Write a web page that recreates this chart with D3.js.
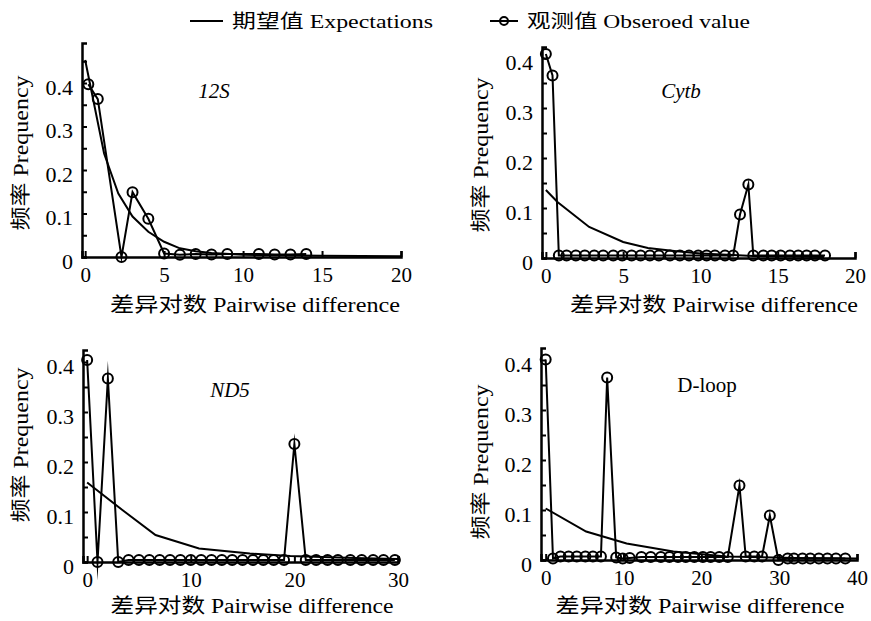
<!DOCTYPE html>
<html lang="en">
<head>
<meta charset="UTF-8">
<title>Mismatch distribution</title>
<style>
  body { margin: 0; background: #fff; }
  .axis path, .axis line { stroke: #000; }
  .axis line { stroke-width: 2; }
</style>
</head>
<body>
<div id="chart"></div>
<script src="https://d3js.org/d3.v7.min.js"></script>
<script>

// 12S
var s12ObsX = [0.2, 0.8, 2.3, 3, 4, 5, 6, 7, 8, 9, 11, 12, 13, 14];
var s12ObsY = [0.397, 0.363, 0, 0.149, 0.088, 0.008, 0.005, 0.007, 0.006, 0.007, 0.007, 0.006, 0.006, 0.007];
var s12ExpX = [0, 1.2, 2.1, 3, 4, 5, 6, 7, 8, 10, 15, 20];
var s12ExpY = [0.453, 0.238, 0.146, 0.093, 0.058, 0.035, 0.02, 0.013, 0.009, 0.005, 0.003, 0.002];

// Cytb
var cytbObsX = [0, 0.43, 0.84, 1.34, 1.94, 2.52, 3.13, 3.71, 4.36, 4.94, 5.55, 6.13, 6.73, 7.31, 8.03, 8.67,
                9.26, 9.86, 10.4, 10.94, 11.59, 12.12, 12.56, 13.1, 13.42, 14.07, 14.61, 15.19, 15.79, 16.33,
                16.87, 17.41, 18.06];
var cytbObsY = [0.408, 0.365, 0.005, 0.005, 0.005, 0.005, 0.005, 0.005, 0.005, 0.005, 0.005, 0.005, 0.005,
                0.005, 0.005, 0.005, 0.005, 0.005, 0.005, 0.005, 0.005, 0.005, 0.087, 0.147, 0.005, 0.005,
                0.005, 0.005, 0.005, 0.005, 0.005, 0.005, 0.005];
var cytbExpX = [0, 0.75, 2.8, 5, 6.6, 8.3, 10, 12.1, 13.4, 15, 18];
var cytbExpY = [0.136, 0.112, 0.062, 0.032, 0.02, 0.014, 0.009, 0.006, 0.004, 0.003, 0.002];

// ND5
var nd5ObsX = [0, 1, 2, 3, 4, 5, 6, 7, 8, 9, 10, 11, 12, 13, 14, 15, 16, 17, 18, 19, 20,
               21.1, 22.1, 23.2, 24.2, 25.4, 26.5, 27.6, 28.6, 29.7];
var nd5ObsY = [0.404, 0, 0.367, 0, 0.004, 0.004, 0.004, 0.004, 0.004, 0.004, 0.004, 0.004, 0.004, 0.004,
               0.004, 0.004, 0.004, 0.004, 0.004, 0.004, 0.236, 0.004, 0.004, 0.004, 0.004, 0.004, 0.004,
               0.004, 0.004, 0.004];
var nd5ExpX = [0, 3.4, 6.6, 10.8, 15.7, 19.6, 25.8, 30];
var nd5ExpY = [0.159, 0.104, 0.054, 0.027, 0.017, 0.012, 0.008, 0.006];

// D-loop
var dloopObsX = [0, 0.94, 1.9, 2.95, 4, 5.1, 6.07, 7.1, 7.9, 9.06, 9.9, 10.8, 12.3, 13.5, 14.8, 15.9, 17, 18,
                 19.1, 20.2, 21.2, 22.3, 23.4, 24.9, 25.7, 26.8, 27.8, 28.8, 29.9, 31.1, 31.9, 33, 34, 35.1,
                 36.2, 37.3, 38.5];
var dloopObsY = [0.401, 0.003, 0.007, 0.007, 0.007, 0.007, 0.007, 0.007, 0.365, 0.005, 0.003, 0.004,
                 0.006, 0.006, 0.006, 0.006, 0.006, 0.006, 0.006, 0.006, 0.006, 0.006, 0.006, 0.149,
                 0.007, 0.007, 0.007, 0.089, 0, 0.003, 0.003, 0.003, 0.003, 0.003, 0.003, 0.003, 0.003];
var dloopExpX = [0, 5.2, 10.4, 16.4, 23.2, 32, 40];
var dloopExpY = [0.103, 0.057, 0.033, 0.017, 0.007, 0.004, 0.003];

// ticks
var xTicks20 = [0, 5, 10, 15, 20];
var xTicks30 = [0, 10, 20, 30];
var xTicks40 = [0, 10, 20, 30, 40];
var yTicks = [0, 0.05, 0.1, 0.15, 0.2, 0.25, 0.3, 0.35, 0.4, 0.45];
var yLabels = [0, 0.1, 0.2, 0.3, 0.4];

var legendExp = "期望值 Expectations";
var legendObs = "观测值 Obseroed value";
var yTitle = "频率 Prequency";
var xTitle = "差异对数 Pairwise difference";

var serif = "Liberation Serif, Noto Sans CJK SC";

var svg = d3.select("#chart").append("svg")
    .attr("width", 871)
    .attr("height", 621)
    .attr("font-family", serif);

// legend
svg.append("line").attr("x1", 190).attr("x2", 223).attr("y1", 21).attr("y2", 21)
    .attr("stroke", "#000").attr("stroke-width", 2);
svg.append("text").attr("x", 232).attr("y", 28).attr("font-size", 19)
    .attr("textLength", 201).attr("lengthAdjust", "spacingAndGlyphs").text(legendExp);
svg.append("line").attr("x1", 490).attr("x2", 518).attr("y1", 21).attr("y2", 21)
    .attr("stroke", "#000").attr("stroke-width", 2);
svg.append("circle").attr("cx", 504).attr("cy", 21).attr("r", 4)
    .attr("fill", "none").attr("stroke", "#000").attr("stroke-width", 2);
svg.append("text").attr("x", 527).attr("y", 28).attr("font-size", 19)
    .attr("textLength", 223).attr("lengthAdjust", "spacingAndGlyphs").text(legendObs);

var panels = [
  {obsX: s12ObsX, obsY: s12ObsY, expX: s12ExpX, expY: s12ExpY, xd: [-0.2, 20], xr: [82, 401], xt: xTicks20,
   yd: [0, 0.492], yr: [257, 43], name: "12S", italic: true, nx: 214, ny: 98,
   ytx: 28, yty: 153, xtx: 255, xty: 312, xtw: 290},
  {obsX: cytbObsX, obsY: cytbObsY, expX: cytbExpX, expY: cytbExpY, xd: [-0.25, 20], xr: [542, 855], xt: xTicks20,
   yd: [0, 0.422], yr: [258, 47], name: "Cytb", italic: true, nx: 681, ny: 98,
   ytx: 488, yty: 155, xtx: 714, xty: 312, xtw: 288},
  {obsX: nd5ObsX, obsY: nd5ObsY, expX: nd5ExpX, expY: nd5ExpY, xd: [-0.4, 30], xr: [83, 398], xt: xTicks30,
   yd: [0, 0.424], yr: [562, 350], name: "ND5", italic: true, nx: 230, ny: 397,
   ytx: 28, yty: 445, xtx: 252, xty: 613, xtw: 283},
  {obsX: dloopObsX, obsY: dloopObsY, expX: dloopExpX, expY: dloopExpY, xd: [-0.6, 40], xr: [541, 857], xt: xTicks40,
   yd: [0, 0.424], yr: [560, 348], name: "D-loop", italic: false, nx: 707, ny: 392,
   ytx: 488, yty: 462, xtx: 700, xty: 613, xtw: 289}
];

panels.forEach(drawPanel);

function drawPanel(p) {
  var x = d3.scaleLinear().domain(p.xd).range(p.xr);
  var y = d3.scaleLinear().domain(p.yd).range(p.yr);
  var g = svg.append("g");

  var xAxis = d3.axisBottom(x).tickValues(p.xt).tickSizeInner(-6).tickSizeOuter(-6).tickPadding(10);
  var gx = g.append("g").attr("class", "axis")
      .attr("transform", "translate(0," + p.yr[0] + ")")
      .call(xAxis)
      .attr("font-family", serif).attr("font-size", 21);

  var yAxis = d3.axisLeft(y).tickValues(yTicks.filter(function(v) { return v <= p.yd[1]; }))
      .tickSizeInner(-5).tickSizeOuter(-5).tickPadding(9)
      .tickFormat(function(v) {
        return yLabels.some(function(l) { return Math.abs(l - v) < 1e-9; }) ? String(+v.toFixed(1)) : "";
      });
  var gy = g.append("g").attr("class", "axis")
      .attr("transform", "translate(" + p.xr[0] + ",0)")
      .call(yAxis)
      .attr("font-family", serif).attr("font-size", 22);
  gy.selectAll("text").attr("dy", "0.5em");

  g.selectAll(".axis .domain").attr("stroke-width", 2.5);

  var line = d3.line().x(function(d) { return x(d[0]); }).y(function(d) { return y(d[1]); });

  var exp = p.expX.map(function(v, i) { return [v, p.expY[i]]; });
  var obs = p.obsX.map(function(v, i) { return [v, p.obsY[i]]; });

  g.append("path").datum(exp).attr("d", line)
      .attr("fill", "none").attr("stroke", "#000").attr("stroke-width", 2);

  g.append("path").datum(obs).attr("d", line)
      .attr("fill", "none").attr("stroke", "#000").attr("stroke-width", 2)
      .attr("stroke-miterlimit", 20);

  g.selectAll("circle.obs").data(obs).enter().append("circle")
      .attr("class", "obs")
      .attr("cx", function(d) { return x(d[0]); })
      .attr("cy", function(d) { return y(d[1]); })
      .attr("r", 5)
      .attr("fill", "none").attr("stroke", "#000").attr("stroke-width", 2);

  g.append("text").attr("x", p.nx).attr("y", p.ny).attr("text-anchor", "middle")
      .attr("font-size", 21).attr("font-style", p.italic ? "italic" : "normal").text(p.name);

  g.append("text").attr("transform", "translate(" + p.ytx + "," + p.yty + ") rotate(-90)")
      .attr("text-anchor", "middle").attr("font-size", 20)
      .attr("textLength", 155).attr("lengthAdjust", "spacingAndGlyphs").text(yTitle);

  g.append("text").attr("x", p.xtx).attr("y", p.xty).attr("text-anchor", "middle")
      .attr("font-size", 20).attr("textLength", p.xtw).attr("lengthAdjust", "spacingAndGlyphs").text(xTitle);
}
</script>
</body>
</html>
